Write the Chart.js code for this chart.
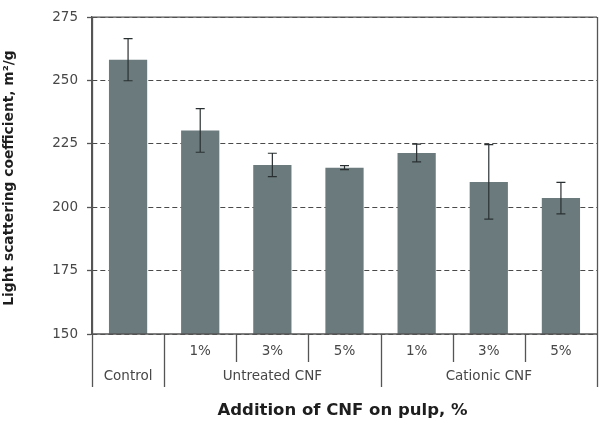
<!DOCTYPE html>
<html>
<head>
<meta charset="utf-8">
<script src="https://cdn.jsdelivr.net/npm/chart.js@4.4.1/dist/chart.umd.min.js"></script>
<style>
  html, body { margin: 0; padding: 0; background: #ffffff; }
  canvas { display: block; }
</style>
</head>
<body>
<canvas id="c" width="603" height="428"></canvas>
<script>
// ---- data ----
const categories = ['Control', 'Untreated 1%', 'Untreated 3%', 'Untreated 5%', 'Cationic 1%', 'Cationic 3%', 'Cationic 5%'];
const doseLabels = ['', '1%', '3%', '5%', '1%', '3%', '5%'];
const groupLabels = ['Control', 'Untreated CNF', 'Cationic CNF'];
const groupRanges = [[0, 0], [1, 3], [4, 6]];
const scattering = [258.2, 230.3, 216.7, 215.6, 221.4, 210.0, 203.6];
const scatteringErr = [8.3, 8.6, 4.6, 0.8, 3.5, 14.7, 6.2];
const yTicks = [150, 175, 200, 225, 250, 275];
const xTitle = 'Addition of CNF on pulp, %';
const yTitle = 'Light scattering coefficient, m\u00B2/g';

const FONT = '"DejaVu Sans", sans-serif';
const AXIS_COLOR = '#555555';
const LABEL_COLOR = '#474747';

const decorPlugin = {
  id: 'decor',
  afterDatasetsDraw(chart) {
    const ctx = chart.ctx;
    const y = chart.scales.y;
    const meta = chart.getDatasetMeta(0);
    // error bars
    ctx.save();
    ctx.strokeStyle = '#2a3032';
    ctx.lineWidth = 1.2;
    meta.data.forEach((bar, i) => {
      const v = scattering[i], e = scatteringErr[i];
      const yt = y.getPixelForValue(v + e);
      const yb = y.getPixelForValue(v - e);
      const cx = bar.x;
      const cap = 4.5;
      ctx.beginPath();
      ctx.moveTo(cx, yt); ctx.lineTo(cx, yb);
      ctx.moveTo(cx - cap, yt); ctx.lineTo(cx + cap, yt);
      ctx.moveTo(cx - cap, yb); ctx.lineTo(cx + cap, yb);
      ctx.stroke();
    });
    ctx.restore();
  },
  afterDraw(chart) {
    const ctx = chart.ctx;
    const x = chart.scales.x;
    const ca = chart.chartArea;
    ctx.save();
    ctx.strokeStyle = AXIS_COLOR;
    ctx.lineWidth = 1.3;
    // frame: top and bottom axis
    ctx.beginPath();
    ctx.moveTo(ca.left, ca.top); ctx.lineTo(ca.right, ca.top);
    ctx.moveTo(ca.left, ca.bottom); ctx.lineTo(ca.right, ca.bottom);
    ctx.stroke();
    // category boundaries
    const n = categories.length;
    const bounds = [];
    for (let k = 0; k <= n; k++) {
      if (k === 0) bounds.push(ca.left);
      else if (k === n) bounds.push(ca.right);
      else bounds.push((x.getPixelForTick(k - 1) + x.getPixelForTick(k)) / 2);
    }
    const groupEdges = new Set();
    groupRanges.forEach(r => { groupEdges.add(r[0]); groupEdges.add(r[1] + 1); });
    const longBottom = ca.bottom + 53;
    const shortBottom = ca.bottom + 28;
    bounds.forEach((bx, k) => {
      const isLong = groupEdges.has(k);
      const top = (k === 0 || k === n) ? ca.top : ca.bottom;
      ctx.beginPath();
      ctx.moveTo(Math.round(bx) + 0.5, top);
      ctx.lineTo(Math.round(bx) + 0.5, isLong ? longBottom : shortBottom);
      ctx.stroke();
    });
    // group labels
    ctx.fillStyle = LABEL_COLOR;
    ctx.font = '13.5px ' + FONT;
    ctx.textAlign = 'center';
    ctx.textBaseline = 'middle';
    groupRanges.forEach((r, gi) => {
      const cx = (bounds[r[0]] + bounds[r[1] + 1]) / 2;
      ctx.fillText(groupLabels[gi], cx, ca.bottom + 42);
    });
    // axis titles
    ctx.fillStyle = '#1e1e1e';
    ctx.font = 'bold 16.5px ' + FONT;
    ctx.fillText(xTitle, (ca.left + ca.right) / 2 - 2, 411);
    ctx.translate(9, 178);
    ctx.rotate(-Math.PI / 2);
    ctx.font = 'bold 13.8px ' + FONT;
    ctx.fillText(yTitle, 0, 0);
    ctx.restore();
  }
};

new Chart(document.getElementById('c'), {
  type: 'bar',
  data: {
    labels: categories,
    datasets: [{
      data: scattering,
      backgroundColor: '#6b7a7c',
      borderWidth: 0,
      categoryPercentage: 1.0,
      barPercentage: 0.53
    }]
  },
  options: {
    responsive: false,
    animation: false,
    devicePixelRatio: 1,
    layout: { padding: { top: 9, right: 6, left: 0, bottom: 0 } },
    plugins: { legend: { display: false }, tooltip: { enabled: false } },
    scales: {
      x: {
        type: 'category',
        grid: { display: false, drawTicks: false },
        border: { display: false },
        ticks: {
          autoSkip: false,
          maxRotation: 0,
          padding: 9,
          color: LABEL_COLOR,
          font: { family: FONT, size: 13.5 },
          callback: (val, i) => doseLabels[i]
        },
        afterFit: s => { s.height = 94; }
      },
      y: {
        min: 150,
        max: 275,
        afterBuildTicks: s => { s.ticks = yTicks.map(v => ({ value: v })); },
        grid: {
          color: '#4a4a4a',
          lineWidth: 1,
          tickLength: 5,
          tickColor: AXIS_COLOR,
          tickBorderDash: [],
          tickWidth: 1.3
        },
        border: { display: true, color: AXIS_COLOR, width: 1.3, dash: [5, 3] },
        ticks: {
          padding: 9,
          color: LABEL_COLOR,
          font: { family: FONT, size: 13.5 }
        },
        afterFit: s => { s.width = 92; }
      }
    }
  },
  plugins: [decorPlugin]
});
</script>
</body>
</html>
